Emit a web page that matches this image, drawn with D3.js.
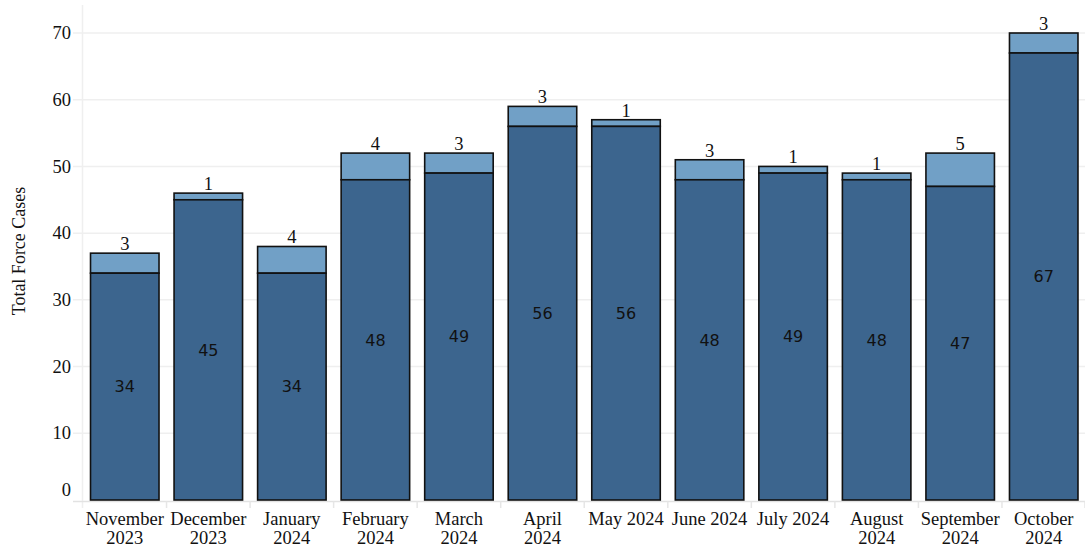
<!DOCTYPE html>
<html lang="en">
  <head>
    <meta charset="utf-8">
    <title>Total Force Cases</title>
    <script src="https://d3js.org/d3.v7.min.js"></script>
    <style>
      body { margin: 0; background: #fff; }
      text { font-family: "Liberation Serif", "Times New Roman", serif; fill: #111; }
      text.inside { font-family: "DejaVu Sans", "Noto Sans", sans-serif; }
    </style>
  </head>
  <body>
    <div id="chart"></div>
    <script type="text/javascript">
      // data
      let months = ['November 2023', 'December 2023', 'January 2024', 'February 2024',
                    'March 2024', 'April 2024', 'May 2024', 'June 2024', 'July 2024',
                    'August 2024', 'September 2024', 'October 2024'];
      let tickLabels = [['November', '2023'], ['December', '2023'], ['January', '2024'],
                        ['February', '2024'], ['March', '2024'], ['April', '2024'],
                        ['May 2024'], ['June 2024'], ['July 2024'], ['August', '2024'],
                        ['September', '2024'], ['October', '2024']];
      let darkValues = [34, 45, 34, 48, 49, 56, 56, 48, 49, 48, 47, 67];
      let lightValues = [3, 1, 4, 4, 3, 3, 1, 3, 1, 1, 5, 3];
      let yTicks = [0, 10, 20, 30, 40, 50, 60, 70];

      let width = 1085, height = 546;
      let plotLeft = 83, plotRight = 1085, plotTop = 5, plotBottom = 500;

      let svg = d3.select('#chart').append('svg')
        .attr('width', width)
        .attr('height', height);

      let x = d3.scaleBand()
        .domain(months)
        .range([plotLeft, plotRight + 0.5])
        .paddingInner(0.18)
        .paddingOuter(0.09);

      let y = d3.scaleLinear()
        .domain([0, 70])
        .range([plotBottom, 33]);

      // grid
      svg.append('g')
        .selectAll('line')
        .data(yTicks.filter(d => d > 0))
        .enter().append('line')
        .attr('x1', plotLeft - 10).attr('x2', plotRight)
        .attr('y1', d => y(d)).attr('y2', d => y(d))
        .attr('stroke', '#efefef')
        .attr('stroke-width', 1.5);

      svg.append('line')
        .attr('x1', plotLeft - 0.5).attr('x2', plotLeft - 0.5)
        .attr('y1', plotTop).attr('y2', plotBottom + 8)
        .attr('stroke', '#efefef')
        .attr('stroke-width', 1.5);

      // baseline and band separators
      svg.append('line')
        .attr('x1', plotLeft - 10).attr('x2', plotRight)
        .attr('y1', plotBottom + 1.5).attr('y2', plotBottom + 1.5)
        .attr('stroke', '#e2e2e2')
        .attr('stroke-width', 1.5);

      let step = x.step();
      let bounds = months.map(m => x(m) - step * x.paddingInner() / 2);
      bounds.push(plotRight);
      svg.append('g')
        .selectAll('line')
        .data(bounds.slice(1))
        .enter().append('line')
        .attr('x1', d => d).attr('x2', d => d)
        .attr('y1', plotBottom + 1.5).attr('y2', plotBottom + 8)
        .attr('stroke', '#e6e6e6')
        .attr('stroke-width', 1.5);

      // y axis labels
      svg.append('g')
        .selectAll('text')
        .data(yTicks)
        .enter().append('text')
        .attr('x', 71)
        .attr('y', d => d === 0 ? y(d) - 10 : y(d))
        .attr('dy', '0.33em')
        .attr('text-anchor', 'end')
        .attr('font-size', 18.5)
        .text(d => d);

      svg.append('text')
        .attr('transform', 'translate(25,' + 251 + ') rotate(-90)')
        .attr('text-anchor', 'middle')
        .attr('font-size', 18)
        .text('Total Force Cases');

      // bars
      let bars = svg.append('g')
        .selectAll('g')
        .data(months)
        .enter().append('g');

      bars.append('rect')
        .attr('x', d => x(d))
        .attr('width', x.bandwidth())
        .attr('y', (d, i) => y(darkValues[i] + lightValues[i]))
        .attr('height', (d, i) => y(darkValues[i]) - y(darkValues[i] + lightValues[i]))
        .attr('fill', '#71a0c6')
        .attr('stroke', '#111')
        .attr('stroke-width', 1.6);

      bars.append('rect')
        .attr('x', d => x(d))
        .attr('width', x.bandwidth())
        .attr('y', (d, i) => y(darkValues[i]))
        .attr('height', (d, i) => y(0) - y(darkValues[i]))
        .attr('fill', '#3c658e')
        .attr('stroke', '#111')
        .attr('stroke-width', 1.6);

      bars.append('text')
        .attr('class', 'inside')
        .attr('x', d => x(d) + x.bandwidth() / 2)
        .attr('y', (d, i) => (y(0) + y(darkValues[i])) / 2)
        .attr('dy', '0.36em')
        .attr('text-anchor', 'middle')
        .attr('font-size', 16)
        .text((d, i) => darkValues[i]);

      bars.append('text')
        .attr('x', d => x(d) + x.bandwidth() / 2)
        .attr('y', (d, i) => y(darkValues[i] + lightValues[i]) - 3)
        .attr('text-anchor', 'middle')
        .attr('font-size', 18.5)
        .text((d, i) => lightValues[i]);

      // x labels
      let xl = svg.append('g')
        .selectAll('text')
        .data(months)
        .enter().append('text')
        .attr('text-anchor', 'middle')
        .attr('font-size', 18.5)
        .attr('x', d => x(d) + x.bandwidth() / 2)
        .attr('y', 525);

      xl.selectAll('tspan')
        .data((d, i) => tickLabels[i])
        .enter().append('tspan')
        .attr('x', function () { return this.parentNode.getAttribute('x'); })
        .attr('dy', (d, j) => j === 0 ? 0 : 19)
        .text(d => d);
    </script>
  </body>
</html>
